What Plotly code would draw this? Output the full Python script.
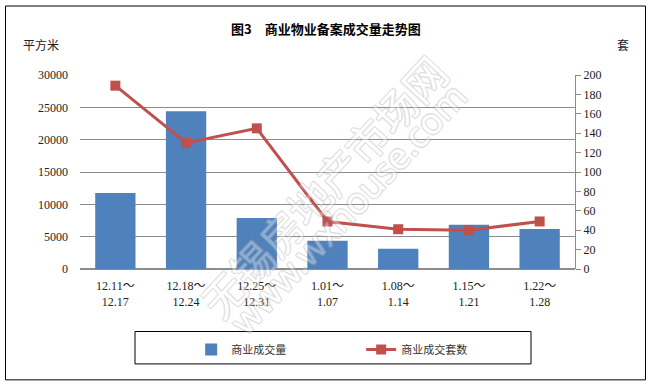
import plotly.graph_objects as go

categories = ["12.11～<br>12.17", "12.18～<br>12.24", "12.25～<br>12.31", "1.01～<br>1.07",
              "1.08～<br>1.14", "1.15～<br>1.21", "1.22～<br>1.28"]
area_values = [11750, 24400, 7900, 4350, 3150, 6850, 6200]
count_values = [189, 130, 145, 49, 41, 40, 49]

title_text = "图3　商业物业备案成交量走势图"
left_unit = "平方米"
right_unit = "套"
bar_name = "商业成交量"
line_name = "商业成交套数"
watermark_cn = "无锡房地产市场网"
watermark_en = "www.wxhouse.com"

FONT = "Noto Sans CJK SC"
NUMFONT = "Liberation Serif, " + FONT
GRID = "#8c8c8c"
OUTLINE = ("-1px -1px 0 #a0a0a0, 1px -1px 0 #a0a0a0, "
           "-1px 1px 0 #a0a0a0, 1px 1px 0 #a0a0a0")

fig = go.Figure()
fig.add_trace(go.Bar(
    x=categories, y=area_values, name=bar_name,
    marker=dict(color="#4F81BD", line=dict(width=0)),
    width=0.57, yaxis="y",
))
fig.add_trace(go.Scatter(
    x=categories, y=count_values, name=line_name, mode="lines+markers",
    line=dict(color="#C0504D", width=3),
    marker=dict(symbol="square", size=10, color="#C0504D"),
    yaxis="y2",
))


def px_x(px):
    return (px - 80) / 495


def px_y(py):
    return (269.3 - py) / 194.6


fig.update_layout(
    width=651, height=386,
    margin=dict(l=80, r=76, t=75, b=117, autoexpand=False),
    paper_bgcolor="white", plot_bgcolor="white",
    font=dict(family=FONT, size=11, color="#222"),
    showlegend=True,
    legend=dict(orientation="h", x=0.568, xanchor="center", y=-0.34, yanchor="top",
                font=dict(size=11, color="#333"), entrywidth=125,
                bgcolor="rgba(0,0,0,0)"),
    xaxis=dict(type="category", showgrid=False, showline=False, ticks="",
               tickfont=dict(size=12, family=NUMFONT, color="#222"),
               zeroline=False, ticklabelstandoff=8),
    yaxis=dict(range=[0, 30000], dtick=5000, tickformat="d", showgrid=True,
               gridcolor=GRID, gridwidth=1,
               zeroline=True, zerolinecolor=GRID, showline=False, ticks="",
               tickfont=dict(size=12, family=NUMFONT), ticklabelstandoff=11),
    yaxis2=dict(range=[0, 200], dtick=20, overlaying="y", side="right", showgrid=False,
                zeroline=False, showline=True, linecolor=GRID, linewidth=1,
                ticks="outside", ticklen=5, tickcolor=GRID,
                tickfont=dict(size=12, family=NUMFONT)),
    annotations=[
        dict(text=watermark_cn, xref="paper", yref="paper", x=px_x(323), y=px_y(186),
             xanchor="center", yanchor="middle", showarrow=False, textangle=-47,
             opacity=0.35, font=dict(size=42, family=FONT, color="white", shadow=OUTLINE)),
        dict(text=watermark_en, xref="paper", yref="paper", x=px_x(348), y=px_y(209),
             xanchor="center", yanchor="middle", showarrow=False, textangle=-47,
             opacity=0.35, font=dict(size=36, family="Noto Sans", color="white", shadow=OUTLINE)),
        dict(text="<b>" + title_text + "</b>", xref="paper", yref="paper", x=0.497, y=1.24,
             xanchor="center", yanchor="middle", showarrow=False,
             font=dict(size=13, family=FONT, color="#000")),
        dict(text=left_unit, xref="paper", yref="paper", x=-0.12, y=1.155,
             xanchor="left", yanchor="middle", showarrow=False,
             font=dict(size=12, family=FONT, color="#222")),
        dict(text=right_unit, xref="paper", yref="paper", x=1.08, y=1.155,
             xanchor="left", yanchor="middle", showarrow=False,
             font=dict(size=12, family=FONT, color="#222")),
    ],
    shapes=[
        dict(type="rect", xref="paper", yref="paper",
             x0=px_x(135), x1=px_x(531), y0=px_y(364.5), y1=px_y(332),
             line=dict(color="#000", width=1)),
        dict(type="rect", xref="paper", yref="paper",
             x0=px_x(5.5), x1=px_x(645.5), y0=px_y(380.5), y1=px_y(5.5),
             line=dict(color="#000", width=1)),
    ],
)

fig.write_html("out.html", config={"displayModeBar": False},
               post_script="document.body.style.margin='0';document.body.style.padding='0';")
